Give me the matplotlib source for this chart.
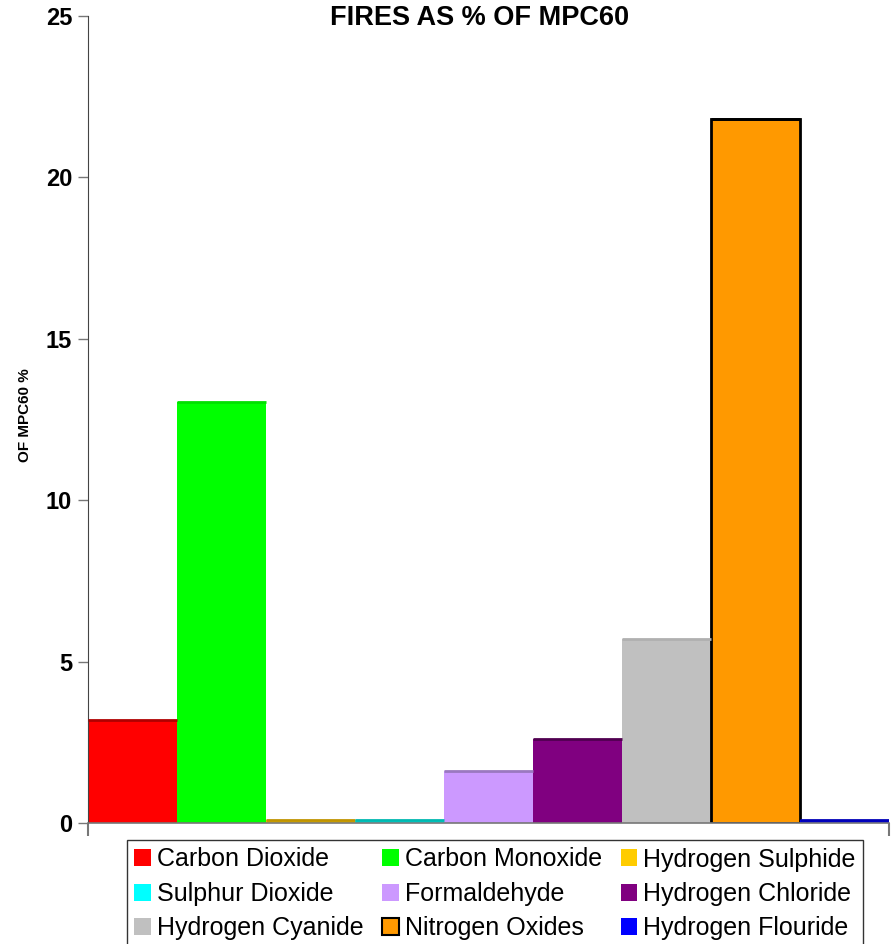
import matplotlib.pyplot as plt
from matplotlib.patches import Patch

plt.rcParams['font.family'] = ['Liberation Sans', 'DejaVu Sans']

# Gas concentrations expressed as % of MPC60
gases = ['Carbon Dioxide', 'Carbon Monoxide', 'Hydrogen Sulphide',
         'Sulphur Dioxide', 'Formaldehyde', 'Hydrogen Chloride',
         'Hydrogen Cyanide', 'Nitrogen Oxides', 'Hydrogen Flouride']
values = [3.2, 13.05, 0.1, 0.1, 1.6, 2.6, 5.7, 21.8, 0.1]
fill_colors = ['#ff0000', '#00ff00', '#ffcc00', '#00ffff', '#cc99ff',
               '#800080', '#c0c0c0', '#ff9900', '#0000ff']
top_colors = ['#b00000', '#00e000', '#c09400', '#00b8b0', '#9a78c0',
              '#500050', '#b0b0b0', '#000000', '#0000b8']

fig = plt.figure(figsize=(8.91, 9.44), dpi=100)
ax = fig.add_axes([88 / 891, 1 - 823 / 944, 801 / 891, 807 / 944])

x = range(len(gases))
bars = ax.bar(x, values, width=1.0, color=fill_colors, linewidth=0)
for b, tc in zip(bars, top_colors):
    ax.plot([b.get_x(), b.get_x() + b.get_width()],
            [b.get_height(), b.get_height()], color=tc, lw=2,
            solid_capstyle='butt', zorder=3)
# nitrogen oxides bar has a full black outline
bars[7].set_edgecolor('black')
bars[7].set_linewidth(2)

ax.set_xlim(-0.5, 8.5)
ax.set_ylim(0, 25)
ax.set_yticks([0, 5, 10, 15, 20, 25])
ax.set_xticks([-0.5, 8.5])
ax.set_xticklabels(['', ''])
ax.tick_params(axis='y', length=7, width=1, color='#777777', pad=4.5,
               labelsize=17)
ax.tick_params(axis='x', length=9.5, width=1.5, color='#777777')
for lbl in ax.get_yticklabels():
    lbl.set_fontweight('bold')
for side in ['top', 'right']:
    ax.spines[side].set_visible(False)
ax.spines['left'].set_color('#444444')
ax.spines['bottom'].set_color('#777777')
ax.spines['bottom'].set_linewidth(1.2)

fig.text(480 / 891, 1 - 18 / 944, 'FIRES AS % OF MPC60', ha='center',
         va='center', fontsize=19.5, fontweight='bold')
fig.text(25 / 891, 1 - 415 / 944, 'OF MPC60 %', rotation=90, ha='center',
         va='center', fontsize=11, fontweight='bold')

# legend filled row by row (3 columns)
handles = []
for name, fc in zip(gases, fill_colors):
    ec = 'black' if name == 'Nitrogen Oxides' else fc
    handles.append(Patch(facecolor=fc, edgecolor=ec,
                         linewidth=1.5 if ec == 'black' else 0, label=name))
order = [0, 3, 6, 1, 4, 7, 2, 5, 8]
fig.legend([handles[i] for i in order], [gases[i] for i in order],
           loc='upper left', bbox_to_anchor=(127 / 891, 1 - 840 / 944),
           ncol=3, fontsize=18, frameon=True, fancybox=False,
           edgecolor='#333333', framealpha=1, handlelength=0.65,
           handleheight=0.65, handletextpad=0.25, columnspacing=0.75,
           labelspacing=0.42, borderpad=0.3, borderaxespad=0)

fig.savefig('out.png', dpi=100)
